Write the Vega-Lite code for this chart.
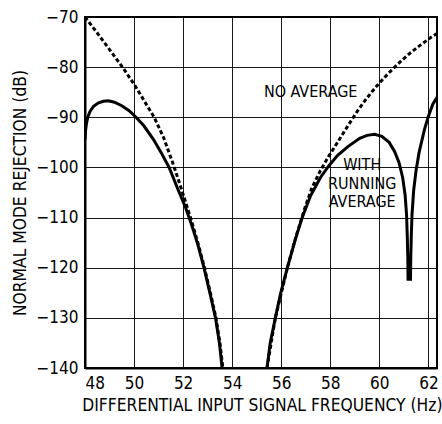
{
  "$schema": "https://vega.github.io/schema/vega-lite/v6.json",
  "width": 352,
  "height": 351,
  "autosize": {"type": "none"},
  "padding": {"left": 85, "top": 17, "right": 5, "bottom": 56},
  "background": "white",
  "config": {
    "view": {"stroke": "black", "strokeWidth": 2},
    "font": "'DejaVu Sans Condensed', 'Liberation Sans', sans-serif",
    "axis": {
      "labelFont": "'DejaVu Sans Condensed', 'Liberation Sans', sans-serif",
      "titleFont": "'DejaVu Sans Condensed', 'Liberation Sans', sans-serif",
      "labelFontSize": 17,
      "titleFontSize": 17.3,
      "titleFontWeight": "normal",
      "labelColor": "black",
      "titleColor": "black",
      "grid": true,
      "gridColor": "black",
      "gridOpacity": 0.9,
      "gridWidth": 1,
      "ticks": false,
      "domain": true,
      "domainColor": "black",
      "domainWidth": 2
    }
  },
  "datasets": {
    "curves": [
      {"s": "with", "g": "wl", "f": 48.0, "db": -94.4},
      {"s": "with", "g": "wl", "f": 48.02, "db": -92.8},
      {"s": "with", "g": "wl", "f": 48.06, "db": -91.2},
      {"s": "with", "g": "wl", "f": 48.12, "db": -89.9},
      {"s": "with", "g": "wl", "f": 48.2, "db": -88.9},
      {"s": "with", "g": "wl", "f": 48.35, "db": -87.8},
      {"s": "with", "g": "wl", "f": 48.55, "db": -87.1},
      {"s": "with", "g": "wl", "f": 48.75, "db": -86.8},
      {"s": "with", "g": "wl", "f": 48.95, "db": -86.7},
      {"s": "with", "g": "wl", "f": 49.2, "db": -87.0},
      {"s": "with", "g": "wl", "f": 49.5, "db": -87.7},
      {"s": "with", "g": "wl", "f": 49.8, "db": -88.7},
      {"s": "with", "g": "wl", "f": 50.08, "db": -90.0},
      {"s": "with", "g": "wl", "f": 50.4, "db": -91.7},
      {"s": "with", "g": "wl", "f": 50.8, "db": -94.5},
      {"s": "with", "g": "wl", "f": 51.1, "db": -97.0},
      {"s": "with", "g": "wl", "f": 51.43, "db": -100.0},
      {"s": "with", "g": "wl", "f": 51.8, "db": -104.5},
      {"s": "with", "g": "wl", "f": 52.1, "db": -108.0},
      {"s": "with", "g": "wl", "f": 52.35, "db": -111.5},
      {"s": "with", "g": "wl", "f": 52.6, "db": -115.4},
      {"s": "with", "g": "wl", "f": 52.85, "db": -120.0},
      {"s": "with", "g": "wl", "f": 53.1, "db": -125.2},
      {"s": "with", "g": "wl", "f": 53.32, "db": -130.0},
      {"s": "with", "g": "wl", "f": 53.48, "db": -135.0},
      {"s": "with", "g": "wl", "f": 53.59, "db": -140.0},
      {"s": "with", "g": "wr", "f": 55.42, "db": -140.0},
      {"s": "with", "g": "wr", "f": 55.55, "db": -135.0},
      {"s": "with", "g": "wr", "f": 55.76, "db": -130.0},
      {"s": "with", "g": "wr", "f": 55.98, "db": -125.0},
      {"s": "with", "g": "wr", "f": 56.25, "db": -120.0},
      {"s": "with", "g": "wr", "f": 56.55, "db": -114.8},
      {"s": "with", "g": "wr", "f": 56.84, "db": -110.2},
      {"s": "with", "g": "wr", "f": 57.2, "db": -105.6},
      {"s": "with", "g": "wr", "f": 57.6, "db": -102.0},
      {"s": "with", "g": "wr", "f": 57.92, "db": -99.8},
      {"s": "with", "g": "wr", "f": 58.3, "db": -97.6},
      {"s": "with", "g": "wr", "f": 58.73, "db": -95.8},
      {"s": "with", "g": "wr", "f": 59.2, "db": -94.2},
      {"s": "with", "g": "wr", "f": 59.5, "db": -93.6},
      {"s": "with", "g": "wr", "f": 59.81, "db": -93.4},
      {"s": "with", "g": "wr", "f": 60.1, "db": -93.8},
      {"s": "with", "g": "wr", "f": 60.4, "db": -95.0},
      {"s": "with", "g": "wr", "f": 60.62, "db": -96.8},
      {"s": "with", "g": "wr", "f": 60.8, "db": -99.0},
      {"s": "with", "g": "wr", "f": 60.95, "db": -102.0},
      {"s": "with", "g": "wr", "f": 61.05, "db": -105.5},
      {"s": "with", "g": "wr", "f": 61.11, "db": -109.5},
      {"s": "with", "g": "wr", "f": 61.14, "db": -114.0},
      {"s": "with", "g": "wr", "f": 61.16, "db": -118.0},
      {"s": "with", "g": "wr", "f": 61.17, "db": -122.3},
      {"s": "with", "g": "wr", "f": 61.27, "db": -122.3},
      {"s": "with", "g": "wr", "f": 61.28, "db": -118.0},
      {"s": "with", "g": "wr", "f": 61.3, "db": -114.0},
      {"s": "with", "g": "wr", "f": 61.33, "db": -109.5},
      {"s": "with", "g": "wr", "f": 61.4, "db": -104.5},
      {"s": "with", "g": "wr", "f": 61.5, "db": -100.5},
      {"s": "with", "g": "wr", "f": 61.62, "db": -97.0},
      {"s": "with", "g": "wr", "f": 61.84, "db": -92.4},
      {"s": "with", "g": "wr", "f": 62.0, "db": -89.8},
      {"s": "with", "g": "wr", "f": 62.18, "db": -87.4},
      {"s": "with", "g": "wr", "f": 62.35, "db": -86.0},
      {"s": "no", "g": "nl", "f": 48.0, "db": -70.0},
      {"s": "no", "g": "nl", "f": 48.5, "db": -73.2},
      {"s": "no", "g": "nl", "f": 49.0, "db": -76.5},
      {"s": "no", "g": "nl", "f": 49.53, "db": -80.0},
      {"s": "no", "g": "nl", "f": 50.0, "db": -83.4},
      {"s": "no", "g": "nl", "f": 50.4, "db": -86.6},
      {"s": "no", "g": "nl", "f": 50.82, "db": -90.0},
      {"s": "no", "g": "nl", "f": 51.2, "db": -94.0},
      {"s": "no", "g": "nl", "f": 51.6, "db": -99.4},
      {"s": "no", "g": "nl", "f": 51.95, "db": -104.6},
      {"s": "no", "g": "nl", "f": 52.3, "db": -110.0},
      {"s": "no", "g": "nl", "f": 52.6, "db": -115.0},
      {"s": "no", "g": "nl", "f": 52.87, "db": -120.0},
      {"s": "no", "g": "nl", "f": 53.12, "db": -125.2},
      {"s": "no", "g": "nl", "f": 53.34, "db": -130.0},
      {"s": "no", "g": "nl", "f": 53.5, "db": -135.0},
      {"s": "no", "g": "nl", "f": 53.62, "db": -140.0},
      {"s": "no", "g": "nr", "f": 55.42, "db": -140.0},
      {"s": "no", "g": "nr", "f": 55.76, "db": -130.0},
      {"s": "no", "g": "nr", "f": 56.25, "db": -120.0},
      {"s": "no", "g": "nr", "f": 56.6, "db": -113.8},
      {"s": "no", "g": "nr", "f": 56.97, "db": -108.0},
      {"s": "no", "g": "nr", "f": 57.24, "db": -104.2},
      {"s": "no", "g": "nr", "f": 57.6, "db": -100.6},
      {"s": "no", "g": "nr", "f": 57.92, "db": -97.9},
      {"s": "no", "g": "nr", "f": 58.32, "db": -94.8},
      {"s": "no", "g": "nr", "f": 58.73, "db": -91.6},
      {"s": "no", "g": "nr", "f": 59.1, "db": -88.8},
      {"s": "no", "g": "nr", "f": 59.47, "db": -86.3},
      {"s": "no", "g": "nr", "f": 59.85, "db": -84.0},
      {"s": "no", "g": "nr", "f": 60.22, "db": -82.0},
      {"s": "no", "g": "nr", "f": 60.5, "db": -80.6},
      {"s": "no", "g": "nr", "f": 60.88, "db": -78.8},
      {"s": "no", "g": "nr", "f": 61.3, "db": -77.0},
      {"s": "no", "g": "nr", "f": 61.7, "db": -75.5},
      {"s": "no", "g": "nr", "f": 62.15, "db": -73.9},
      {"s": "no", "g": "nr", "f": 62.35, "db": -73.3}
    ],
    "labels": [
      {"t": ["NO AVERAGE"], "f": 57.2, "db": -85.0},
      {"t": ["WITH", "RUNNING", "AVERAGE"], "f": 59.3, "db": -99.5}
    ]
  },
  "encoding": {
    "x": {
      "field": "f",
      "type": "quantitative",
      "scale": {"domain": [48, 62.35], "nice": false, "zero": false},
      "axis": {
        "values": [48, 50, 52, 54, 56, 58, 60, 62],
        "title": "DIFFERENTIAL INPUT SIGNAL FREQUENCY (Hz)",
        "labelPadding": 7,
        "titlePadding": 5,
        "titleAnchor": "end",
        "titleX": 357
      }
    },
    "y": {
      "field": "db",
      "type": "quantitative",
      "scale": {"domain": [-140, -70], "nice": false, "zero": false},
      "axis": {
        "values": [-140, -130, -120, -110, -100, -90, -80, -70],
        "title": "NORMAL MODE REJECTION (dB)",
        "labelPadding": 7,
        "titlePadding": 6
      }
    }
  },
  "layer": [
    {
      "data": {"name": "curves"},
      "transform": [{"filter": "datum.s === 'with'"}],
      "mark": {"type": "line", "color": "black", "strokeWidth": 3, "clip": true},
      "encoding": {"detail": {"field": "g"}}
    },
    {
      "data": {"name": "curves"},
      "transform": [{"filter": "datum.s === 'no'"}],
      "mark": {"type": "line", "color": "black", "strokeWidth": 3, "strokeDash": [4, 2.5], "clip": true},
      "encoding": {"detail": {"field": "g"}}
    },
    {
      "data": {"name": "labels"},
      "mark": {"type": "text", "fontSize": 16, "lineHeight": 18.7, "fill": "black", "baseline": "middle", "align": "center"},
      "encoding": {"text": {"field": "t"}}
    }
  ]
}
